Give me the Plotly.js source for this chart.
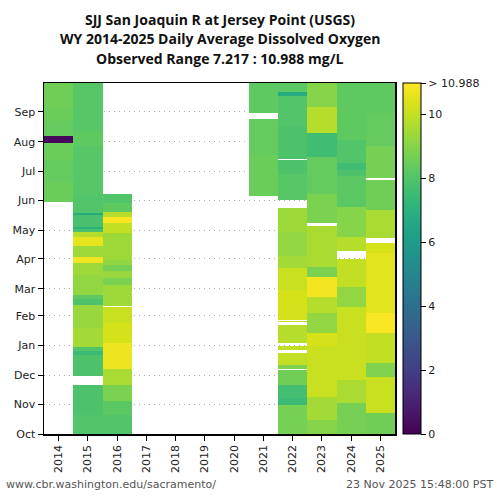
<!DOCTYPE html>
<html>
<head>
<meta charset="utf-8">
<script src="https://cdn.plot.ly/plotly-3.0.1.min.js"></script>
<style>
  html, body { margin: 0; padding: 0; background: #fff; }
  #chart { width: 500px; height: 500px; }
</style>
</head>
<body>
<div id="chart"></div>
<script>
// water years on the x axis
var years = [2014, 2015, 2016, 2017, 2018, 2019, 2020, 2021, 2022, 2023, 2024, 2025];

// daily average DO, as runs of [startDay, endDay, mg/L]
// (day 0 = 1 Oct; days not covered are missing)
var do2014 = [[241,262,8.5],[262,285,8.4],[285,303,8.5],[303,310,0.2],[310,325,8.4],[325,340,8.5],[340,365,8.6]];
var do2015 = [[0,20,8.0],[20,51,7.9],[60,82,7.9],[82,86,7.5],[86,90,8.0],[90,110,9.5],[110,134,9.3],[134,140,7.9],
              [140,145,8.3],[145,165,9.2],[165,178,9.4],[178,184,10.8],[184,195,9.4],[195,205,10.6],[205,210,9.8],
              [210,213,7.8],[213,215,7.0],[215,228,7.8],[228,230,6.8],[230,250,8.0],[250,300,8.1],[300,315,8.3],
              [315,365,8.1]];
var do2016 = [[0,20,8.0],[20,34,8.2],[34,51,8.8],[51,68,9.6],[68,95,10.7],[95,115,10.3],[115,132,10.1],
              [133,155,9.4],[155,162,8.8],[162,169,9.3],[169,176,8.7],[176,181,9.2],[181,209,9.4],[209,219,10.0],
              [219,226,10.9],[226,231,9.8],[231,240,8.3],[240,250,8.0]];
var do2017 = [];
var do2018 = [];
var do2019 = [];
var do2020 = [];
var do2021 = [[247,290,8.5],[290,328,8.4],[334,365,8.3]];
var do2022 = [[0,30,8.7],[30,37,7.5],[37,51,7.7],[51,67,8.6],[68,72,8.9],[72,84,10.0],[87,91,10.0],
              [95,113,9.8],[116,117,10.0],[119,150,10.3],[150,173,10.1],[173,185,9.5],[185,210,9.2],[210,235,9.4],
              [243,270,8.1],[270,285,7.9],[286,320,7.9],[320,351,8.0],[351,356,6.8],[356,365,8.2]];
var do2023 = [[0,15,9.0],[15,38,9.5],[38,91,10.1],[91,105,10.3],[105,126,9.2],[126,142,9.8],[142,163,10.8],
              [163,174,8.8],[174,216,9.6],[219,250,8.8],[250,288,8.4],[288,313,7.6],[313,340,9.8],[340,365,9.0]];
var do2024 = [[0,32,8.7],[32,56,9.6],[56,132,10.1],[132,153,9.2],[153,182,10.0],[190,205,9.8],[205,236,9.0],
              [236,268,8.2],[268,275,7.9],[275,282,7.6],[282,306,8.0],[306,365,8.3]];
var do2025 = [[0,22,8.6],[22,59,10.1],[59,74,8.9],[74,105,10.0],[105,126,10.9],[126,188,10.5],[188,199,10.3],
              [204,233,9.6],[233,264,8.6],[266,299,8.7],[299,334,8.4],[334,365,8.3]];

var monthDays = [0, 31, 61, 92, 123, 151, 182, 212, 243, 273, 304, 335];
var monthNames = ['Oct', 'Nov', 'Dec', 'Jan', 'Feb', 'Mar', 'Apr', 'May', 'Jun', 'Jul', 'Aug', 'Sep'];

var obsMax = 10.988;

var runs = [do2014, do2015, do2016, do2017, do2018, do2019, do2020, do2021, do2022, do2023, do2024, do2025];

// expand the runs into a day x year grid
var days = [];
var z = [];
for (var d = 0; d < 365; d++) {
    days.push(d + 0.5);
    var row = [];
    for (var i = 0; i < years.length; i++) row.push(null);
    z.push(row);
}
runs.forEach(function(r, i) {
    r.forEach(function(seg) {
        for (var d = seg[0]; d < seg[1]; d++) z[d][i] = seg[2];
    });
});

var data = [{
    type: 'heatmap',
    x: years,
    y: days,
    z: z,
    zmin: 0,
    zmax: obsMax,
    colorscale: 'Viridis',
    hoverongaps: false,
    colorbar: {
        x: 1.0228,
        xanchor: 'left',
        xpad: 0,
        ypad: 0,
        y: 0.5,
        yanchor: 'middle',
        len: 1,
        thickness: 18,
        outlinewidth: 1,
        outlinecolor: '#000',
        ticks: 'outside',
        ticklen: 5,
        tickcolor: '#000',
        tickvals: [0, 2, 4, 6, 8, 10, obsMax],
        ticktext: ['0', '2', '4', '6', '8', '10', '> 10.988'],
        tickfont: {family: 'DejaVu Sans', size: 11, color: '#222'}
    }
}];

var titleFont = {family: 'Open Sans', size: 14, color: '#111'};

var layout = {
    width: 500,
    height: 500,
    margin: {l: 44, r: 105, t: 83, b: 66},
    paper_bgcolor: '#fff',
    plot_bgcolor: '#fff',
    font: {family: 'DejaVu Sans', size: 11, color: '#222'},
    xaxis: {
        range: [2013.5, 2025.5],
        tickvals: years,
        ticktext: years.map(String),
        tickangle: -90,
        ticks: 'outside',
        ticklen: 5,
        tickcolor: '#000',
        showgrid: false,
        zeroline: false,
        showline: true,
        mirror: true,
        linecolor: '#000',
        linewidth: 1.5
    },
    yaxis: {
        range: [0, 365],
        tickvals: monthDays,
        ticktext: monthNames,
        ticks: 'outside',
        ticklen: 5,
        tickcolor: '#000',
        showgrid: true,
        gridcolor: '#aaa',
        griddash: '1px,4px',
        gridwidth: 1,
        zeroline: false,
        showline: true,
        mirror: true,
        linecolor: '#000',
        linewidth: 1.5,
        layer: 'above traces'
    },
    annotations: [
        {text: '<b>SJJ San Joaquin R at Jersey Point (USGS)</b>', xref: 'paper', yref: 'paper',
         x: 0.5, y: 1.1795, xanchor: 'center', yanchor: 'middle', showarrow: false, font: titleFont},
        {text: '<b>WY 2014-2025 Daily Average Dissolved Oxygen</b>', xref: 'paper', yref: 'paper',
         x: 0.5, y: 1.1254, xanchor: 'center', yanchor: 'middle', showarrow: false, font: titleFont},
        {text: '<b>Observed Range 7.217 : 10.988 mg/L</b>', xref: 'paper', yref: 'paper',
         x: 0.5, y: 1.0712, xanchor: 'center', yanchor: 'middle', showarrow: false, font: titleFont},
        {text: 'www.cbr.washington.edu/sacramento/', xref: 'paper', yref: 'paper',
         x: -0.114, y: -0.145, xanchor: 'left', yanchor: 'middle', showarrow: false,
         font: {family: 'DejaVu Sans', size: 11, color: '#555'}},
        {text: '23 Nov 2025 15:48:00 PST', xref: 'paper', yref: 'paper',
         x: 1.285, y: -0.145, xanchor: 'right', yanchor: 'middle', showarrow: false,
         font: {family: 'DejaVu Sans', size: 11, color: '#555'}}
    ]
};

Plotly.newPlot('chart', data, layout, {displayModeBar: false, staticPlot: true});
</script>
</body>
</html>
